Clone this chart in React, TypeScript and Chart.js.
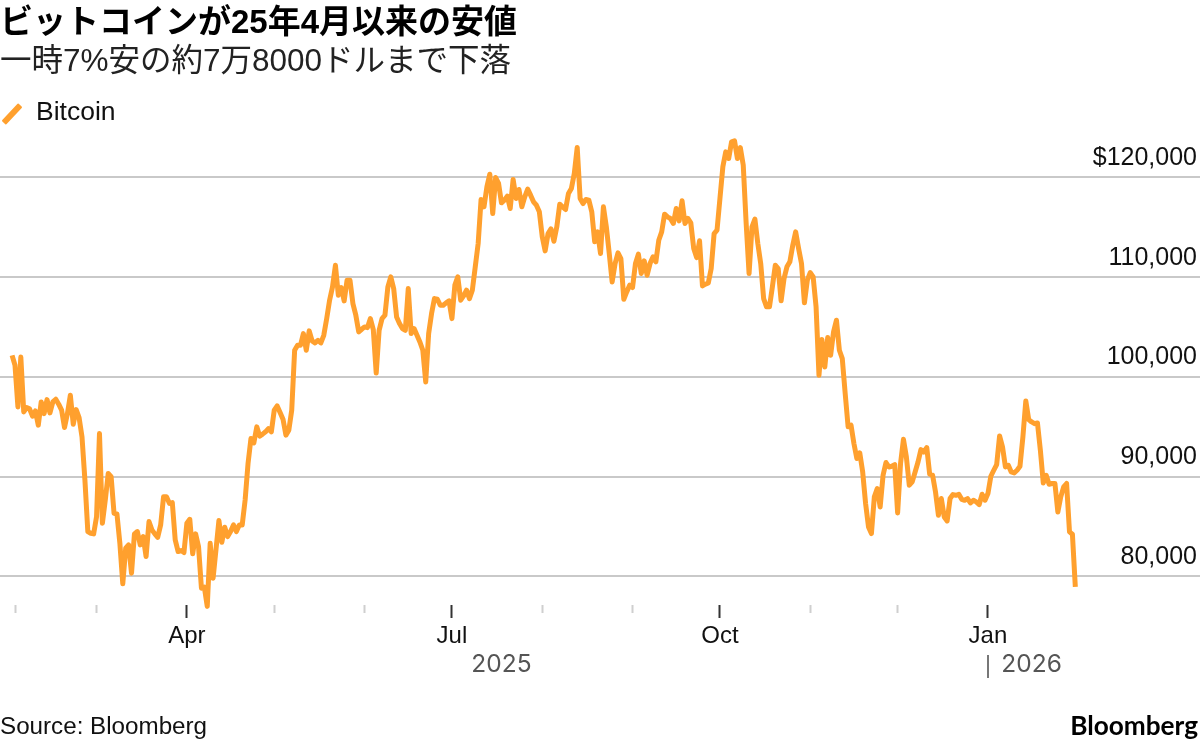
import { useEffect, useRef } from "react";
import { Chart, registerables } from "chart.js";

Chart.register(...registerables);

// Daily close in USD. First value is 31 Jan 2025, last one is 31 Jan 2026.
const prices = [
  102170, 101170, 97000, 102000, 96500, 96930, 96800, 96070, 96600, 95170,
  97500, 96330, 97730, 96400, 97500, 97770, 97270, 96670, 94930, 96330,
  98170, 95270, 96730, 95930, 94000, 89670, 84500, 84330, 84270, 86000,
  94330, 85330, 87670, 90330, 90000, 86330, 86270, 83330, 79270, 82830,
  83170, 80330, 84270, 84500, 83170, 84000, 82000, 85500, 84670, 84270,
  83930, 85170, 88000, 88000, 87330, 87400, 83670, 82500, 82600, 82400,
  85330, 85730, 82270, 84270, 83000, 78830, 78930, 77000, 83330, 79830,
  82700, 85600, 83430, 84930, 84000, 84500, 85170, 84500, 85170, 85170,
  87670, 91330, 93830, 93400, 95000, 94070, 94270, 94500, 94830, 94500,
  96670, 97100, 96430, 95770, 94170, 94670, 96670, 102680, 103180, 103180,
  104350, 102680, 104620, 103620, 103410, 103680, 103410, 104180, 105850, 107700,
  109030, 111200, 108200, 108970, 107630, 109700, 109700, 107360, 106190, 104520,
  104780, 105020, 104950, 105850, 104750, 100400, 104680, 105850, 106190, 109030,
  110030, 108860, 106020, 105350, 104850, 104680, 108860, 104350, 104850, 104180,
  103510, 102680, 99500, 104350, 106360, 107860, 107790, 107190, 107190, 107430,
  107630, 105850, 109200, 110030, 107700, 108130, 108700, 107860, 108700, 111040,
  113380, 117790, 117060, 119060, 120330, 116390, 120000, 119400, 117460, 117730,
  118130, 116890, 119800, 117900, 118800, 117060, 118060, 118830, 118230, 117560,
  117220, 116560, 114050, 112640, 114380, 114850, 113610, 115050, 117320, 117060,
  116790, 118400, 118900, 120400, 123010, 117900, 117390, 117790, 117730, 116560,
  113550, 114550, 112380, 117060, 115050, 112380, 109530, 111370, 112440, 111870,
  107790, 108530, 109200, 108970, 111370, 112310, 110370, 111640, 110200, 111370,
  112040, 111540, 113710, 114550, 116320, 116050, 115890, 115390, 116890, 115650,
  117660, 115390, 115890, 115450, 112880, 111970, 113650, 109130, 109300, 109430,
  110870, 114380, 114720, 117900, 121070, 122570, 121900, 123580, 123680, 121900,
  123000, 121240, 115390, 110370, 115050, 115820, 113380, 111370, 107860, 107030,
  107030, 109030, 111200, 110870, 107630, 109860, 111040, 111540, 113210, 114550,
  112880, 111370, 107430, 109700, 110470, 110030, 107030, 100170, 103750, 101000,
  103950, 102180, 104520, 105690, 102680, 101840, 98330, 95000, 95170, 93320,
  91820, 92380, 90480, 87310, 84970, 84300, 87980, 88810, 86970, 90150,
  91420, 90980, 91050, 91220, 86370, 91320, 93750, 91980, 89150, 89480,
  90480, 91480, 92720, 92480, 92920, 90250, 90150, 88480, 86140, 87810,
  85970, 85570, 87810, 88210, 88140, 88240, 87740, 87640, 87810, 87370,
  87640, 87470, 87210, 88240, 87640, 88310, 90050, 90650, 91220, 94090,
  92990, 90980, 91150, 90480, 90380, 90650, 91050, 93990, 97600, 95730,
  95490, 95320, 95390, 92650, 89380, 90150, 89250, 89320, 89320, 86470,
  87980, 88980, 89320, 84470, 84240, 78960,
];

const priceTicks = [80000, 90000, 100000, 110000, 120000];

// Days counted from 1 Feb 2025
const firstPriceDay = -1;
const quarterDays = [59, 150, 242, 334];
const quarterLabels = ["Apr", "Jul", "Oct", "Jan"];
const monthDays = [0, 28, 89, 120, 181, 212, 273, 303];
const yearDays = [167, 349];
const yearLabels = ["2025", "2026"];

const FONT = '"Liberation Sans", "Noto Sans CJK JP", sans-serif';
const ORANGE = "#ffa02e";

// Shared by every x axis so that they line up
const dayRange = { type: "linear" as const, min: -5.15, max: 406.8 };
const yBottom = 77140;

function hiddenGrid(tickLength: number, tickColor: string) {
  return { drawOnChartArea: false, tickLength, tickColor, tickWidth: 2 };
}

export default function App() {
  const canvasRef = useRef<HTMLCanvasElement>(null);

  useEffect(() => {
    if (!canvasRef.current) return;

    const chart = new Chart(canvasRef.current, {
      type: "line",
      data: {
        datasets: [{
          label: "Bitcoin",
          data: prices.map((y, i) => ({ x: i + firstPriceDay, y })),
          borderColor: ORANGE,
          borderWidth: 5,
          borderJoinStyle: "round",
          pointRadius: 0,
          tension: 0,
          clip: false,
        }],
      },
      options: {
        animation: false,
        responsive: false,
        layout: { padding: { top: 127.6, bottom: 137, left: 0, right: 0 } },
        plugins: { legend: { display: false }, tooltip: { enabled: false } },
        scales: {
          y: {
            type: "linear",
            position: "right",
            min: yBottom,
            max: 125000,
            afterBuildTicks: (s) => { s.ticks = priceTicks.map((value) => ({ value })); },
            afterFit: (s) => { s.width = 0; },
            grid: { color: "#c9c9c9", lineWidth: 2, drawTicks: false },
            border: { display: false },
            ticks: {
              mirror: true,
              padding: 2,
              labelOffset: -19.5,
              color: "#111",
              font: { family: FONT, size: 25 },
              callback: (v) => (v === 120000 ? "$" : "") + Number(v).toLocaleString("en-US") + "\u2009",
            },
          },
          x: {
            ...dayRange,
            position: { y: yBottom },
            afterBuildTicks: (s) => { s.ticks = quarterDays.map((value) => ({ value })); },
            grid: hiddenGrid(13, "#333"),
            border: { display: false },
            ticks: {
              padding: 4,
              autoSkip: false,
              maxRotation: 0,
              color: "#111",
              font: { family: FONT, size: 24 },
              callback: (v) => quarterLabels[quarterDays.indexOf(Number(v))],
            },
          },
          xMonths: {
            ...dayRange,
            axis: "x",
            position: { y: yBottom },
            afterBuildTicks: (s) => { s.ticks = monthDays.map((value) => ({ value })); },
            grid: hiddenGrid(8, "#cfcfcf"),
            border: { display: false },
            ticks: { display: false, autoSkip: false },
          },
          xYears: {
            ...dayRange,
            axis: "x",
            position: { y: yBottom },
            afterBuildTicks: (s) => { s.ticks = yearDays.map((value) => ({ value })); },
            grid: { display: false },
            border: { display: false },
            ticks: {
              padding: 37,
              autoSkip: false,
              maxRotation: 0,
              color: "#555",
              font: { family: "Inter, sans-serif", size: 24.5 },
              callback: (v) => yearLabels[yearDays.indexOf(Number(v))],
            },
          },
        },
      },
    });

    return () => { chart.destroy(); };
  }, []);

  const text = { position: "absolute", whiteSpace: "nowrap", color: "#111", fontFamily: FONT } as const;

  return (
    <div style={{ position: "absolute", left: 0, top: 0, width: 1200, height: 742, overflow: "hidden", background: "#fff" }}>
      <canvas ref={canvasRef} width={1200} height={742} style={{ position: "absolute", left: 0, top: 0 }} />

      <div style={{ ...text, left: 0, top: 3, fontSize: 33, lineHeight: "38px", fontWeight: 700, color: "#000" }}>
        ビットコインが25年4月以来の安値
      </div>
      <div style={{ ...text, left: 0, top: 41, fontSize: 31.5, lineHeight: "38px", color: "#222" }}>
        一時7%安の約7万8000ドルまで下落
      </div>

      {/* Legend */}
      <div style={{
        position: "absolute", left: 0, top: 110.5, width: 24, height: 6, background: ORANGE,
        transform: "rotate(-47deg)", borderRadius: 1,
      }} />
      <div style={{ ...text, left: 36, top: 96, fontSize: 26.5, lineHeight: "30px" }}>Bitcoin</div>

      {/* Year divider */}
      <div style={{ position: "absolute", left: 987, top: 655, width: 2, height: 23, background: "#777" }} />

      <div style={{ ...text, left: 0, top: 711, fontSize: 24.2, lineHeight: "30px" }}>Source: Bloomberg</div>
      <div style={{ ...text, right: 2, top: 710, fontFamily: "Lato, sans-serif", fontSize: 26.2, lineHeight: "30px", fontWeight: 700, color: "#000" }}>Bloomberg</div>
    </div>
  );
}
